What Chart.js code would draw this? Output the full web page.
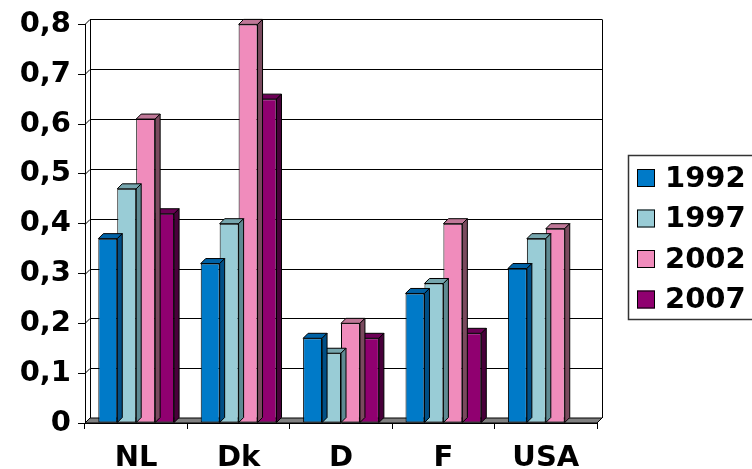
<!DOCTYPE html>
<html>
<head>
<meta charset="utf-8">
<script src="https://cdn.jsdelivr.net/npm/chart.js@4.4.1/dist/chart.umd.min.js"></script>
<style>
  html, body { margin: 0; padding: 0; background: #fff; overflow: hidden; }
  #wrap { width: 752px; height: 469px; }
</style>
</head>
<body>
<div id="wrap"><canvas id="grafico" width="752" height="469"></canvas></div>
<script>
const paises = ['NL', 'Dk', 'D', 'F', 'USA'];
const anos = ['1992', '1997', '2002', '2007'];
const v1992 = [0.37, 0.32, 0.17, 0.26, 0.31];
const v1997 = [0.47, 0.40, 0.14, 0.28, 0.37];
const v2002 = [0.61, 0.80, 0.20, 0.40, 0.39];
const v2007 = [0.42, 0.65, 0.17, 0.18, null];
const rotulosY = ['0', '0,1', '0,2', '0,3', '0,4', '0,5', '0,6', '0,7', '0,8'];

// cores: frente, topo, lateral
const cores = [
  ['#007AC8', '#0062A6', '#004F86'],
  ['#99CCD6', '#76A6AE', '#5E8A92'],
  ['#F08CBC', '#C07898', '#7A4A5E'],
  ['#900070', '#6C0056', '#48003A']
];

const DX = 5, DY = 5;
const fonte = { family: 'DejaVu Sans', size: 29, weight: 'bold' };

// desenha o efeito 3D (piso, paredes, faces das barras) e a legenda
const efeito3d = {
  id: 'efeito3d',
  beforeDatasetsDraw(chart) {
    const { ctx, chartArea: a, scales: { y } } = chart;
    ctx.save();
    ctx.lineWidth = 1;
    ctx.strokeStyle = '#000';
    // linhas de grade na parede do fundo
    y.ticks.forEach(t => {
      const py = Math.round(y.getPixelForValue(t.value)) + 0.5;
      ctx.beginPath();
      ctx.moveTo(a.left, py);
      ctx.lineTo(a.left + DX, py - DY);
      ctx.lineTo(a.right + DX, py - DY);
      ctx.stroke();
    });
    // bordas das paredes
    ctx.beginPath();
    ctx.moveTo(a.left + DX + 0.5, a.top - DY);
    ctx.lineTo(a.left + DX + 0.5, a.bottom - DY);
    ctx.moveTo(a.right + DX + 0.5, a.top - DY);
    ctx.lineTo(a.right + DX + 0.5, a.bottom - DY);
    ctx.stroke();
    // piso
    ctx.beginPath();
    ctx.moveTo(a.left, a.bottom);
    ctx.lineTo(a.right, a.bottom);
    ctx.lineTo(a.right + DX, a.bottom - DY);
    ctx.lineTo(a.left + DX, a.bottom - DY);
    ctx.closePath();
    ctx.fillStyle = '#808080';
    ctx.fill();
    ctx.stroke();
    ctx.restore();
  },
  afterDatasetDraw(chart, args) {
    const { ctx } = chart;
    const meta = args.meta;
    const c = cores[args.index];
    ctx.save();
    ctx.lineWidth = 1;
    ctx.strokeStyle = '#000';
    meta.data.forEach((bar, i) => {
      const val = chart.data.datasets[args.index].data[i];
      if (val === null || val === undefined) return;
      const { x, y, base, width } = bar.getProps(['x', 'y', 'base', 'width'], true);
      const l = x - width / 2, r = x + width / 2;
      // topo
      ctx.beginPath();
      ctx.moveTo(l, y);
      ctx.lineTo(l + DX, y - DY);
      ctx.lineTo(r + DX, y - DY);
      ctx.lineTo(r, y);
      ctx.closePath();
      ctx.fillStyle = c[1];
      ctx.fill();
      ctx.stroke();
      // lateral
      ctx.beginPath();
      ctx.moveTo(r, y);
      ctx.lineTo(r + DX, y - DY);
      ctx.lineTo(r + DX, base - DY);
      ctx.lineTo(r, base);
      ctx.closePath();
      ctx.fillStyle = c[2];
      ctx.fill();
      ctx.stroke();
    });
    ctx.restore();
  },
  afterDraw(chart) {
    const { ctx } = chart;
    ctx.save();
    // caixa da legenda
    ctx.lineWidth = 1.5;
    ctx.strokeStyle = '#333';
    ctx.strokeRect(628.5, 155.5, 150, 164);
    ctx.font = `bold ${fonte.size}px ${fonte.family}`;
    ctx.textBaseline = 'middle';
    ctx.textAlign = 'left';
    chart.data.datasets.forEach((ds, i) => {
      const cy = 178 + i * 40.5;
      ctx.fillStyle = ds.backgroundColor;
      ctx.fillRect(637, cy - 9, 18, 18);
      ctx.lineWidth = 1;
      ctx.strokeStyle = '#000';
      ctx.strokeRect(637.5, cy - 8.5, 17, 17);
      ctx.fillStyle = '#000';
      ctx.fillText(ds.label, 665, cy + 1);
    });
    ctx.restore();
  }
};

const series = [v1992, v1997, v2002, v2007];

new Chart(document.getElementById('grafico'), {
  type: 'bar',
  data: {
    labels: paises,
    datasets: anos.map((ano, i) => ({
      label: ano,
      data: series[i],
      backgroundColor: cores[i][0],
      borderColor: '#000',
      borderWidth: 1,
      borderSkipped: false
    }))
  },
  options: {
    responsive: false,
    animation: false,
    devicePixelRatio: 1,
    categoryPercentage: 0.74,
    barPercentage: 1,
    layout: { padding: { left: 0, right: 155, top: 21, bottom: 0 } },
    plugins: {
      legend: { display: false },
      tooltip: { enabled: false }
    },
    scales: {
      x: {
        afterFit: s => { s.height = 46; },
        grid: { drawOnChartArea: false, tickLength: 6, color: '#000', offset: true },
        border: { color: '#000', width: 1 },
        ticks: { color: '#000', font: fonte, padding: 12 }
      },
      y: {
        min: 0,
        max: 0.8,
        afterFit: s => { s.width = 85; },
        grid: { drawOnChartArea: false, tickLength: 7, color: '#000' },
        border: { color: '#000', width: 1 },
        ticks: {
          stepSize: 0.1,
          color: '#000',
          font: fonte,
          padding: 7,
          callback: (v, i) => rotulosY[i]
        }
      }
    }
  },
  plugins: [efeito3d]
});
</script>
</body>
</html>
